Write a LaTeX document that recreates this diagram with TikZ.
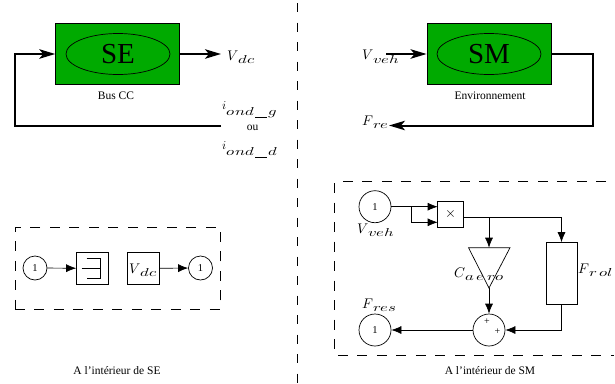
\documentclass[tikz,border=0pt]{standalone}
\usepackage{graphicx}
\usepackage{fontspec}
\setmainfont{Liberation Serif}
\usepackage{unicode-math}
\setmathfont{Latin Modern Math}
\usetikzlibrary{arrows.meta,shapes.geometric}
\definecolor{segreen}{RGB}{0,170,0}
\newcommand\subtext[2][-3.5pt]{\raisebox{#1}{\scalebox{1.45}[1]{\fontsize{11.5}{12}\selectfont$#2$}}}
\newcommand\varlab[2]{\hbox{\fontsize{14}{14}\selectfont$#1$\subtext{#2}}}
\newcommand\curlab[1]{\hbox{\fontsize{12}{12}\selectfont\raisebox{6pt}{$i$}\kern0.5pt\subtext[0pt]{ond}\kern1pt\rule[-2.5pt]{12pt}{0.6pt}\kern1.5pt\subtext[0pt]{#1}}}
\tikzset{
 x=1pt,y=-1pt,
 blockbox/.style={draw,fill=segreen,line width=0.9pt,minimum width=124pt,minimum height=61pt,inner sep=0},
 blockoval/.style={draw,ellipse,line width=0.7pt,minimum width=104pt,minimum height=41pt,inner sep=0,font=\fontsize{29}{29}\selectfont},
 heavy/.style={line width=2pt,-{Stealth[length=16pt,width=9.5pt,inset=4pt]}},
 thinarrow/.style={line width=0.7pt,-{Latex[length=10pt,width=8pt]}},
 port/.style={draw,circle,line width=0.7pt,inner sep=0,font=\fontsize{10.5}{11}\selectfont},
 sq/.style={draw,line width=0.7pt,inner sep=0},
 dashframe/.style={draw,line width=0.7pt,dash pattern=on 10pt off 9.5pt},
 capt/.style={font=\fontsize{11.5}{12}\selectfont,inner sep=0},
 lab/.style={inner sep=0,anchor=base west},
 sign/.style={font=\fontsize{10}{10}\selectfont,inner sep=0},
}
\begin{document}
\begin{tikzpicture}
\useasboundingbox (0,0) rectangle (615,383);
\draw[line width=0.8pt,dash pattern=on 9pt off 10.5pt] (297,3) -- (297,383);
% SE
\node[blockbox] (se) at (117.7,54) {};
\node[blockoval] (seo) at (118,54) {SE};
\node[lab] (vdc) at (227,60) {\varlab{V}{dc}};
\coordinate (seout) at (221,54);
\draw[heavy] (se.east) -- (seout);
\coordinate (fbs) at (221,125.5);
\draw[heavy] (fbs) -- (14.5,125.5) -- (14.5,54) -- (se.west);
\node[capt] (buscc) at (116,96) {Bus CC};
\node[lab] (ig) at (222,115) {\curlab{g}};
\node[capt] (ou) at (252.5,128) {ou};
\node[lab] (id) at (222,155) {\curlab{d}};
% SM
\node[blockbox] (sm) at (489,54) {};
\node[blockoval] (smo) at (489,54) {SM};
\node[lab] (vveh) at (362,59.5) {\varlab{V}{veh}};
\coordinate (smin) at (386,54);
\draw[heavy] (smin) -- (sm.west);
\node[lab] (fre) at (362,125) {\varlab{F}{re}};
\coordinate (smret) at (389,125.5);
\draw[heavy] (sm.east) -- (593,54) -- (593,125.5) -- (smret);
\node[capt] (env) at (490,96) {Environnement};
% inner SE
\node[dashframe,minimum width=205.7pt,minimum height=81.7pt] (fr1) at (117.8,268.2) {};
\node[port,minimum size=24pt] (p1) at (35,268) {1};
\node[sq,minimum size=31.3pt] (b1) at (92.2,268.3) {};
\draw[line width=0.7pt] (86.7,258.3) -- (100,258.3) -- (100,278.3) -- (86.7,278.3) (81.7,268.3) -- (100,268.3);
\node[sq,minimum size=31.3pt] (b2) at (143.3,268.3) {};
\node[lab] (vb) at (129.5,273) {\varlab{V}{dc}};
\node[port,minimum size=24pt] (p2) at (200.5,268) {1};
\draw[thinarrow] (p1) -- (b1);
\draw[thinarrow] (b2) -- (p2);
\node[capt] (c1) at (117,371) {A l’intérieur de SE};
% inner SM
\draw[line width=0.7pt,dash pattern=on 10pt off 9.5pt] (606,181.7) -- (334.3,181.7) -- (334.3,355) -- (614,355);
\node[port,minimum size=32pt] (p3) at (375,206.7) {1};
\node[lab] (v2) at (357,233) {\varlab{V}{veh}};
\node[sq,minimum size=25.6pt,font=\fontsize{14}{14}\selectfont] (mul) at (450.5,214.5) {$\times$};
\coordinate (m1) at (437.7,206.7);
\coordinate (m2) at (437.7,222.3);
\draw[thinarrow] (p3.east) -- (m1);
\draw[thinarrow] (411.7,206.7) -- (411.7,222.3) -- (m2);
\node[sq,minimum width=31pt,minimum height=61.5pt] (rol) at (561.5,273.3) {};
\node[lab] (frol) at (578,273) {\varlab{F}{r\,ol}};
\coordinate (t) at (489,247.7);
\draw[line width=0.7pt] (468.5,247.7) -- (510,247.7) -- (489,288) -- cycle;
\node[lab] (ca) at (454,277) {\varlab{C}{a\,e\,ro}};
\node[port,minimum size=32pt] (sum) at (489,330) {};
\node[sign] (pa) at (487,322) {+};
\node[sign] (pb) at (497.5,331.5) {+};
\node[port,minimum size=32pt] (p4) at (375,330) {1};
\node[lab] (fr2) at (362,308) {\varlab{F}{res}};
\draw[thinarrow] (463.3,217.3) -- (561.5,217.3) -- (rol.north);
\draw[thinarrow] (489,217.3) -- (t);
\coordinate (tb) at (489,288);
\draw[thinarrow] (tb) -- (sum.north);
\draw[thinarrow] (rol.south) -- (561.5,330) -- (sum.east);
\draw[thinarrow] (sum.west) -- (p4.east);
\node[capt] (c2) at (490,371) {A l’intérieur de SM};
\end{tikzpicture}
\end{document}
